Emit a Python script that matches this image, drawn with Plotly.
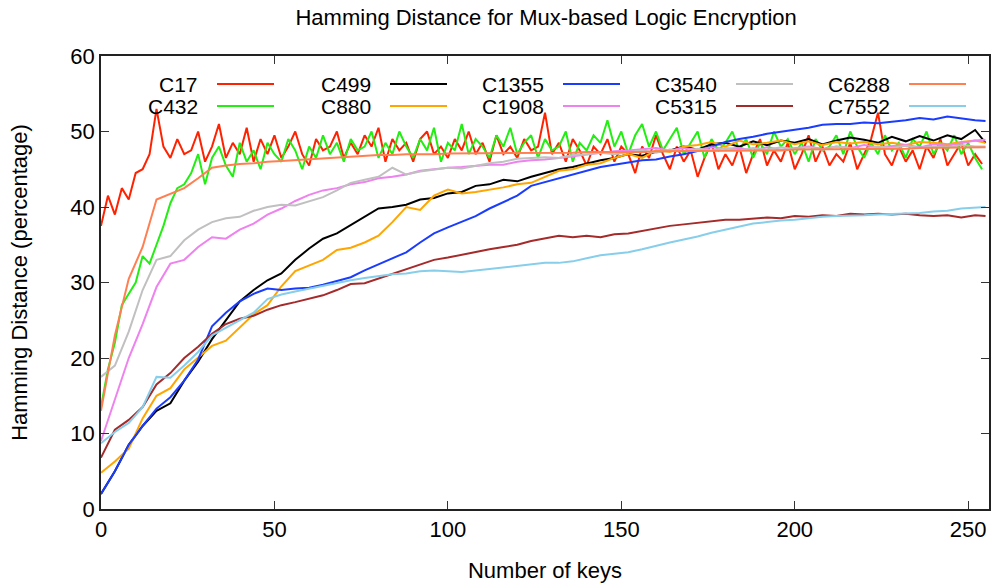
import plotly.graph_objects as go

# ---------------- data ----------------
KEYS_2 = list(range(0, 256, 2))                 # every 2nd key (noisy series)
KEYS_4 = list(range(0, 256, 4)) + [255]         # every 4th key + last key

C17 = [37.5, 41.5, 39, 42.5, 41, 44.5, 45, 47, 53, 48, 46.5, 49, 47, 47.5, 50, 46,
       48, 51, 46.5, 48.5, 47, 50.5, 46, 49, 47, 49.5, 46.5, 48, 50, 47, 45.5, 49,
       47.5, 48, 50, 46.5, 48.5, 47, 49.5, 48, 50.5, 46, 49, 47.5, 48.5, 46, 49, 50,
       47, 48, 46.5, 49, 47.5, 50, 47, 48.5, 46, 49.5, 47, 48, 46.5, 49, 47.5, 48,
       52.5, 47, 48.5, 46, 49, 47.5, 45.5, 48, 47, 49, 46, 48, 47, 44.5, 48, 46.5,
       49.5, 47, 45, 48, 46, 47.5, 44, 46.5, 48.5, 45, 47, 45.5, 48, 44.5, 47, 49,
       45.5, 47.5, 46, 48.5, 45, 47, 49.5, 46, 48, 45.5, 47, 46, 48.5, 45, 47, 49,
       52.5, 47, 45.5, 48, 46, 47.5, 45, 48, 46.5, 49, 45.5, 47, 48.5, 45.5, 47, 45.7]

C432 = [13.5, 18.5, 22, 27, 28.5, 30, 33.5, 32.5, 35, 37.5, 40.5, 42.5, 43, 44.5, 47, 43,
        46.5, 48, 45.5, 44, 48.5, 46, 47.5, 45, 48.5, 47, 46, 49, 47.5, 45, 48, 46.5,
        49.5, 47, 48.5, 46, 49, 47.5, 48, 50, 46.5, 48.5, 47, 50, 48, 46.5, 49, 47.5,
        50.5, 46, 48.5, 47.5, 51, 47, 49, 48, 46.5, 49.5, 48, 50.5, 47, 48.5, 49.5, 46.5,
        49, 47.5, 48, 50, 46, 48.5, 47.5, 49.5, 48.5, 51.5, 48, 50, 47, 49.5, 51, 48,
        50, 47.5, 49, 50.5, 47, 48.5, 50, 46.5, 49, 47.5, 48.5, 50, 47.5, 49, 46.5, 48.5,
        47, 50, 48, 49, 47, 48.5, 46, 49, 47.5, 48, 49.5, 47, 50, 48, 46.5, 48.5,
        47, 49.5, 47.5, 48.5, 46.5, 49, 48, 50, 47, 48.5, 47.5, 49.5, 47, 48.5, 46.5, 45]

C499 = [2, 5, 8.5, 11, 13, 14, 17, 19.5, 22.5, 25, 27.5, 29, 30.3, 31.2, 33, 34.5,
        35.8, 36.5, 37.6, 38.8, 39.8, 40, 40.3, 41, 41.2, 41.8, 42, 42.8, 43, 43.6, 43.4, 44,
        44.5, 45, 45.3, 45.8, 46.2, 46.5, 47, 46.8, 47.3, 47.5, 48, 47.6, 48.3, 48.5, 48, 48.7,
        48.2, 48.8, 48.5, 49, 48.3, 48.8, 49.2, 48.9, 48.5, 49.3, 48.7, 49.4, 48.8, 49.5, 49, 50.2,
        48.5]

C880 = [4.8, 6.3, 8, 12, 15, 16, 18.5, 20, 21.6, 22.3, 24, 25.8, 27, 29.5, 31.5, 32.3,
        33, 34.3, 34.6, 35.3, 36.2, 38, 40, 39.6, 41.5, 42.3, 41.8, 42, 42.3, 42.6, 43, 43.2,
        44, 44.8, 45, 45.6, 45.8, 46.5, 47, 46.5, 47.5, 47.3, 48, 48.2, 48.6, 48, 48.8, 48.3,
        48.5, 48.8, 48.3, 48.7, 48.2, 48.6, 48.4, 48.6, 48.3, 48.5, 48.2, 48.6, 48.5, 48.3, 48.6, 48.8,
        48.5]

C1355 = [2, 5, 8.5, 11, 13.3, 14.8, 17, 19.8, 24.2, 26, 27.5, 28.5, 29.2, 29, 29.2, 29.3,
         29.7, 30.2, 30.7, 31.6, 32.4, 33.2, 34, 35.3, 36.5, 37.3, 38, 38.8, 39.8, 40.6, 41.5, 42.8,
         43.3, 43.8, 44.3, 44.8, 45.3, 45.6, 45.9, 46.2, 46.3, 46.7, 47, 47.4, 48, 48.6, 49, 49.3,
         49.7, 50, 50.3, 50.5, 50.9, 51, 51, 51.2, 51.1, 51.3, 51.5, 51.8, 51.6, 52, 51.7, 51.5,
         51.4]

C1908 = [9, 14.5, 20, 24.5, 29.4, 32.5, 33, 34.7, 36, 35.8, 37, 37.8, 39, 39.8, 40.8, 41.6,
         42.2, 42.5, 43, 43.3, 43.8, 44, 44.3, 44.8, 45, 45.2, 45.3, 45.5, 45.6, 45.6, 46, 46.2,
         46.3, 46.5, 46.7, 47, 47.2, 47.4, 47.5, 47.6, 47.8, 47.5, 47.8, 47.6, 47.9, 47.7, 47.8, 47.5,
         47.9, 47.6, 47.8, 48, 47.7, 48, 47.8, 48.2, 47.9, 48, 48.2, 47.9, 48.3, 48.1, 48.5, 48.8,
         48.9]

C3540 = [17.5, 19, 23.5, 29, 33, 33.5, 35.6, 37, 38, 38.5, 38.7, 39.5, 40, 40.3, 40.2, 40.8,
         41.3, 42.2, 43.2, 43.6, 44, 45.2, 44.3, 44.7, 45, 45.2, 45.1, 45.5, 45.8, 46, 46.4, 46.5,
         46.6, 46.5, 46.9, 47, 47.2, 47, 47.3, 47.5, 47.2, 47.6, 47.4, 47.7, 47.5, 47.8, 47.5, 47.8,
         47.6, 47.9, 47.7, 47.9, 47.6, 48, 47.8, 47.7, 48, 47.8, 48.1, 47.8, 48, 47.9, 48.2, 48,
         48]

C5315 = [6.8, 10.5, 11.8, 13.5, 16.5, 18, 20, 21.5, 23.2, 24.5, 25.2, 25.6, 26.4, 27, 27.4, 27.8,
         28.3, 29, 29.8, 29.9, 30.5, 31.2, 31.8, 32.4, 33, 33.3, 33.7, 34, 34.4, 34.7, 35, 35.5,
         35.8, 36.2, 36, 36.2, 36, 36.4, 36.5, 36.8, 37.2, 37.5, 37.7, 37.9, 38, 38.3, 38.3, 38.4,
         38.6, 38.5, 38.8, 38.7, 38.9, 38.8, 39.1, 39, 39.1, 39, 39.1, 38.9, 38.8, 38.9, 38.6, 38.9,
         38.8]

C6288 = [13, 23, 30.5, 34.7, 41, 41.8, 42.5, 43.8, 45.2, 45.5, 45.7, 45.8, 46, 46.1, 46.2, 46.3,
         46.4, 46.5, 46.6, 46.8, 46.9, 46.9, 47, 47, 47, 47.1, 47.1, 47.1, 47.2, 47.2, 47.2, 47.2,
         47.2, 47.2, 47.2, 47.3, 47.3, 47.3, 47.3, 47.3, 47.4, 47.4, 47.4, 47.4, 47.4, 47.5, 47.5, 47.5,
         47.5, 47.5, 47.6, 47.6, 47.6, 47.6, 47.6, 47.7, 47.7, 47.7, 47.7, 47.8, 47.8, 47.8, 47.8, 47.9,
         47.9]

C7552 = [8.7, 10.2, 11.4, 13.5, 17.5, 17.4, 19, 20.8, 23, 24, 25, 26, 27.8, 28.4, 28.8, 29.2,
         29.6, 29.9, 30.3, 30.6, 30.9, 31.1, 31.2, 31.5, 31.6, 31.5, 31.4, 31.6, 31.8, 32, 32.2, 32.5,
         32.6, 32.6, 32.8, 33.2, 33.6, 33.8, 34, 34.4, 34.9, 35.3, 35.7, 36.1, 36.6, 37, 37.4, 37.8,
         38, 38.2, 38.3, 38.5, 38.7, 38.8, 38.8, 38.9, 39, 39.1, 39.2, 39.2, 39.4, 39.5, 39.8, 39.9,
         40]

SERIES_NAMES = ["C17", "C432", "C499", "C880", "C1355", "C1908", "C3540", "C5315", "C6288", "C7552"]
SERIES_VALUES = [C17, C432, C499, C880, C1355, C1908, C3540, C5315, C6288, C7552]
SERIES_KEYS = [KEYS_2, KEYS_2, KEYS_4, KEYS_4, KEYS_4, KEYS_4, KEYS_4, KEYS_4, KEYS_4, KEYS_4]
COLORS = ["#ff2200", "#22ee11", "#000000", "#ffa500", "#1a3cff",
          "#ee82ee", "#c0c0c0", "#a52a2a", "#ff7f50", "#87ceeb"]

X_TICKS = [0, 50, 100, 150, 200, 250]
Y_TICKS = [0, 10, 20, 30, 40, 50, 60]

# ---------------- figure ----------------
FONT = "Liberation Sans, Arial, sans-serif"
fig = go.Figure()

for name, xs, ys, col in zip(SERIES_NAMES, SERIES_KEYS, SERIES_VALUES, COLORS):
    fig.add_trace(go.Scatter(x=xs, y=ys, mode="lines", name=name,
                             line=dict(color=col, width=2), showlegend=False))

# gnuplot-style legend: text right aligned, then a line sample
L, R, T, B = 101, 4, 56, 76
PW, PH = 993 - L - R, 585 - T - B
def px(x):
    return (x - L) / PW
def py(y):
    return 1 - (y - T) / PH

col_text_right = [200, 373, 546, 719, 892]
row_y = [84, 106]
for i, (name, col) in enumerate(zip(SERIES_NAMES, COLORS)):
    c, r = i // 2, i % 2
    xr = col_text_right[c]
    yy = row_y[r]
    fig.add_annotation(x=px(xr), y=py(yy), xref="paper", yref="paper",
                       text=name, showarrow=False, xanchor="right", yanchor="middle",
                       font=dict(family=FONT, size=21, color="#000"))
    fig.add_shape(type="line", xref="paper", yref="paper",
                  x0=px(xr + 17), x1=px(xr + 74), y0=py(yy), y1=py(yy),
                  line=dict(color=col, width=2))

axis_common = dict(showline=True, mirror="allticks", linecolor="#222", linewidth=1.5,
                   ticks="inside", ticklen=8, tickwidth=1.2, tickcolor="#333",
                   showgrid=False, zeroline=False, automargin=False,
                   tickfont=dict(family=FONT, size=22, color="#000"))

fig.update_layout(
    width=993, height=585,
    margin=dict(l=L, r=R, t=T, b=B),
    paper_bgcolor="white", plot_bgcolor="white",
    title=dict(text="Hamming Distance for Mux-based Logic Encryption",
               x=0.55, xanchor="center", y=0.97, yanchor="middle", yref="container",
               font=dict(family=FONT, size=22, color="#000")),
    xaxis=dict(range=[0, 256], tickvals=X_TICKS,
               title=dict(text="Number of keys", standoff=21,
                          font=dict(family=FONT, size=22, color="#000")),
               **axis_common),
    yaxis=dict(range=[0, 60], tickvals=Y_TICKS,
               title=dict(text="Hamming Distance (percentage)", standoff=37,
                          font=dict(family=FONT, size=22, color="#000")),
               **axis_common),
)

fig.write_html("out.html", config={"displayModeBar": False},
               post_script="document.body.style.margin='0';document.body.style.overflow='hidden';")
